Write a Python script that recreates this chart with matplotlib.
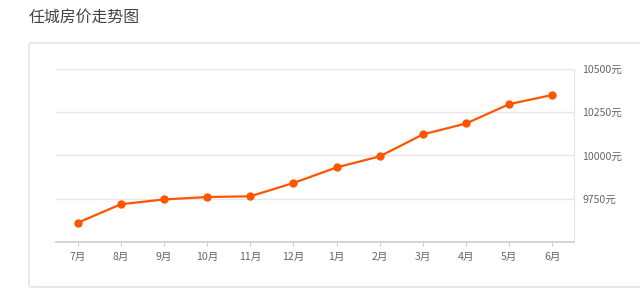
import matplotlib
matplotlib.use('Agg')
import matplotlib.pyplot as plt
from matplotlib.patches import FancyBboxPatch

plt.rcParams['font.family'] = ['Noto Sans CJK SC', 'DejaVu Sans']

months = ['7月', '8月', '9月', '10月', '11月', '12月', '1月', '2月', '3月', '4月', '5月', '6月']
prices = [9611, 9718, 9746, 9760, 9764, 9841, 9931, 9995, 10122, 10185, 10297, 10350]
y_ticks = [9750, 10000, 10250, 10500]
y_labels = ['{}元'.format(v) for v in y_ticks]

W, H = 640, 288
fig = plt.figure(figsize=(W / 100, H / 100), dpi=100)

# card background, kept under the axes
card = FancyBboxPatch((29 / W, 1 - 287 / H), (700 - 29) / W, (287 - 43) / H,
                      boxstyle='round,pad=0,rounding_size=0.006',
                      transform=fig.transFigure, facecolor='white',
                      edgecolor='#e4e4e4', linewidth=1.2, zorder=-5)
fig.patches.append(card)

fig.text(29 / W, 1 - 17 / H, '任城房价走势图', fontsize=11.4, color='#444444',
         ha='left', va='center')

ax = fig.add_axes([56 / W, 1 - 242 / H, (574 - 56) / W, (242 - 69) / H])
ax.set_facecolor('none')
ax.set_zorder(2)

x = list(range(len(months)))
ax.plot(x, prices, '-o', color='#ff5500', linewidth=1.6, markersize=5,
        zorder=3, clip_on=False)

ax.set_xlim(-0.5, len(months) - 0.5)
ax.set_ylim(9500, 10500)
ax.set_xticks(x)
ax.set_xticklabels(months)
ax.set_yticks(y_ticks)
ax.set_yticklabels(y_labels)
ax.yaxis.tick_right()

ax.grid(axis='y', color='#e6e6e6', linewidth=1)
ax.set_axisbelow(True)
for side in ['left', 'top']:
    ax.spines[side].set_visible(False)
ax.spines['right'].set_color('#e6e6e6')
ax.spines['bottom'].set_color('#cccccc')
ax.spines['bottom'].set_linewidth(1.2)

ax.tick_params(axis='x', length=3, color='#cccccc', labelsize=7.6, labelcolor='#666666', pad=4)
ax.tick_params(axis='y', length=0, labelsize=7.6, labelcolor='#666666', pad=6)

fig.savefig('out.png', dpi=100)
